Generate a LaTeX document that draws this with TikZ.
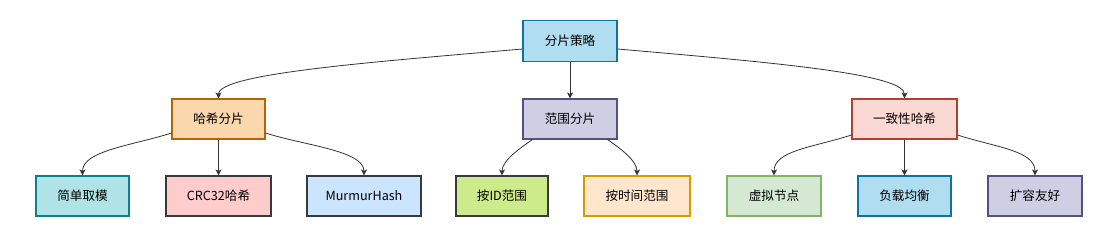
\documentclass[tikz,border=0pt]{standalone}
\usepackage{fontspec}
\setmainfont{Noto Sans CJK SC}
\usepackage{xcolor}
\usetikzlibrary{arrows.meta,positioning}
\definecolor{rootfill}{HTML}{B1DDF0}
\definecolor{rootline}{HTML}{10739E}
\definecolor{hashfill}{HTML}{FAD7AC}
\definecolor{hashline}{HTML}{B46504}
\definecolor{rangefill}{HTML}{D0CEE2}
\definecolor{rangeline}{HTML}{56517E}
\definecolor{consfill}{HTML}{FAD9D5}
\definecolor{consline}{HTML}{AE4132}
\definecolor{modfill}{HTML}{B0E3E6}
\definecolor{modline}{HTML}{0E8088}
\definecolor{crcfill}{HTML}{FFCCCC}
\definecolor{murfill}{HTML}{CCE5FF}
\definecolor{idfill}{HTML}{CDEB8B}
\definecolor{darkline}{HTML}{36393D}
\definecolor{timefill}{HTML}{FFE6CC}
\definecolor{timeline}{HTML}{D79B00}
\definecolor{vnodefill}{HTML}{D5E8D4}
\definecolor{vnodeline}{HTML}{82B366}
\definecolor{edgegray}{HTML}{333333}
\tikzset{
  spbox/.style={draw, line width=1.1pt, minimum height=40pt, inner sep=2pt,
    font=\fontsize{12.6}{14}\selectfont, align=center},
  spRoot/.style={spbox, draw=rootline, fill=rootfill},
  spHash/.style={spbox, draw=hashline, fill=hashfill},
  spRange/.style={spbox, draw=rangeline, fill=rangefill},
  spCons/.style={spbox, draw=consline, fill=consfill},
  spMod/.style={spbox, draw=modline, fill=modfill},
  spCrc/.style={spbox, draw=darkline, fill=crcfill},
  spMur/.style={spbox, draw=darkline, fill=murfill},
  spId/.style={spbox, draw=darkline, fill=idfill},
  spTime/.style={spbox, draw=timeline, fill=timefill},
  spVnode/.style={spbox, draw=vnodeline, fill=vnodefill},
  %% connectors
  spedge/.style={->, >={Stealth[length=6pt,width=6pt,inset=1.5pt]},
    line width=0.8pt, draw=edgegray},
}
\begin{document}
\begin{tikzpicture}[x=1pt, y=1pt]
\useasboundingbox (0,0) rectangle (1104,-251);

\node[spRoot, minimum width=94, minimum height=41] (sRoot) at (570,-41) {分片策略};

\node[spHash,  minimum width=93]  (sHash)  at (218.5,-119) {哈希分片};
\node[spRange, minimum width=94]  (sRange) at (570,-119)   {范围分片};
\node[spCons,  minimum width=105] (sCons)  at (904.5,-119) {一致性哈希};

\node[spMod,   minimum width=93]  (sMod)   at (82.5,-196)  {简单取模};
\node[spCrc,   minimum width=105] (sCrc)   at (218.5,-196) {CRC32哈希};
\node[spMur,   minimum width=114] (sMur)   at (364,-196)   {MurmurHash};
\node[spId,    minimum width=92]  (sId)    at (502,-196)   {按ID范围};
\node[spTime,  minimum width=106] (sTime)  at (637,-196)   {按时间范围};
\node[spVnode, minimum width=94]  (sVnode) at (774,-196)   {虚拟节点};
\node[spRoot,  minimum width=93]  (sLoad)  at (904.5,-196) {负载均衡};
\node[spRange, minimum width=94]  (sScale) at (1035,-196)  {扩容友好};

\draw[spedge] ([yshift=-8]sRoot.west) to[out=185, in=90, out distance=150, in distance=25] (sHash.north);
\draw[spedge] (sRoot.south) -- (sRange.north);
\draw[spedge] ([yshift=-8]sRoot.east) to[out=-5, in=90, out distance=150, in distance=25] (sCons.north);

\draw[spedge] ([yshift=-14]sHash.west) to[out=198, in=90, out distance=40, in distance=25] (sMod.north);
\draw[spedge] (sHash.south) -- (sCrc.north);
\draw[spedge] ([yshift=-14]sHash.east) to[out=-18, in=90, out distance=40, in distance=25] (sMur.north);

\draw[spedge] ([xshift=10]sRange.south west) to[out=215, in=90, out distance=15, in distance=15] (sId.north);
\draw[spedge] ([xshift=-10]sRange.south east) to[out=-35, in=90, out distance=15, in distance=15] (sTime.north);

\draw[spedge] ([yshift=-16]sCons.west) to[out=198, in=90, out distance=40, in distance=25] (sVnode.north);
\draw[spedge] (sCons.south) -- (sLoad.north);
\draw[spedge] ([yshift=-16]sCons.east) to[out=-18, in=90, out distance=40, in distance=25] (sScale.north);

\end{tikzpicture}
\end{document}
